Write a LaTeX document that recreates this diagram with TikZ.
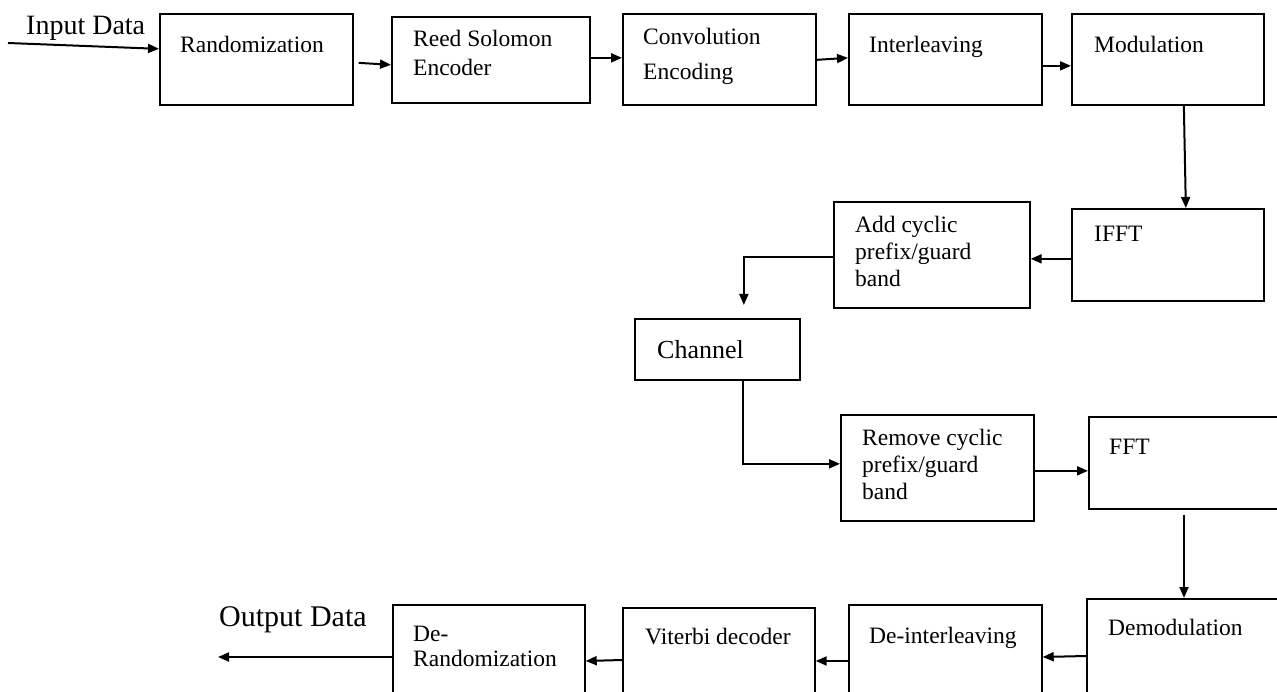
\documentclass[tikz,border=0pt]{standalone}
\usepackage{fontspec}
\setmainfont{Liberation Serif}
\usetikzlibrary{arrows.meta}
\tikzset{
  blk/.style={draw, line width=1.7pt, anchor=north west, inner sep=0},
  txt/.style={anchor=north west, inner sep=0, align=left, font=\fontsize{23.5}{27}\selectfont},
  arr/.style={line width=2pt, -{Triangle[length=11pt,width=9pt]}}
}
\begin{document}
\begin{tikzpicture}[x=1pt, y=-1pt]
	\useasboundingbox (0,0) rectangle (1277,692);
	\fill[white] (0,0) rectangle (1277,692);
	\clip (0,0) rectangle (1277,692);
	% blocks: name/x/y/width/height
	\foreach \n/\x/\y/\w/\h in {rand/159/13/193/91, reed/391/16/198/86, conv/622/13/193/91, inter/848/13/193/91,
		modu/1071/13/192/91, ifft/1071/208/192/92, addcp/833/201/196/106, chan/634/318/165/61,
		remcp/840/414/193/106, fft/1088/416/202/92, demod/1086/598/204/107, deint/848/604/193/101,
		vit/622/607/192/98, derand/392/604/192/101}
		\node[blk, minimum width=\w pt, minimum height=\h pt] (\n) at (\x,\y) {};
	% texts
	\node[txt] (rand-t) at ([shift={(21,23)}]rand.north west) {Randomization};
	\node[txt] (reed-t) at ([shift={(22,14)}]reed.north west) {Reed Solomon\\[2pt]Encoder};
	\node[txt] (conv-t) at ([shift={(21,15)}]conv.north west) {Convolution\\[8pt]Encoding};
	\node[txt] (inter-t) at ([shift={(21,23)}]inter.north west) {Interleaving};
	\node[txt] (modu-t) at ([shift={(23,23)}]modu.north west) {Modulation};
	\node[txt] (ifft-t) at ([shift={(23,18)}]ifft.north west) {IFFT};
	\node[txt] (addcp-t) at ([shift={(22,15)}]addcp.north west) {Add cyclic\\prefix/guard\\band};
	\node[txt, font=\fontsize{26}{30}\selectfont] (chan-t) at ([shift={(23,22)}]chan.north west) {Channel};
	\node[txt] (remcp-t) at ([shift={(22,15)}]remcp.north west) {Remove cyclic\\prefix/guard\\band};
	\node[txt] (fft-t) at ([shift={(21,23)}]fft.north west) {FFT};
	\node[txt] (demod-t) at ([shift={(22,21)}]demod.north west) {Demodulation};
	\node[txt] (deint-t) at ([shift={(21,23)}]deint.north west) {De-interleaving};
	\node[txt] (vit-t) at ([shift={(23,21)}]vit.north west) {Viterbi decoder};
	\node[txt] (derand-t) at ([shift={(21,22)}]derand.north west) {De-\\[-2pt]Randomization};
	\node[anchor=base west, inner sep=0, font=\fontsize{28}{32}\selectfont] (inlbl) at (26,35) {Input Data};
	\node[anchor=base west, inner sep=0, font=\fontsize{30}{34}\selectfont] (outlbl) at (219,626) {Output Data};
	% connectors
	\coordinate (in) at (8,43);
	\coordinate (out) at (218,657);
	\draw[arr] (in) -- ([yshift=10.5pt]rand.west);
	\draw[arr] ([xshift=5pt,yshift=-3.5pt]rand.east) -- ([yshift=-5pt]reed.west);
	\draw[arr] ([yshift=2pt]reed.east) -- ([yshift=1.5pt]conv.west);
	\draw[arr] ([yshift=-0.5pt]conv.east) -- ([yshift=1.5pt]inter.west);
	\draw[arr] ([yshift=-6.5pt]inter.east) -- ([yshift=-6.5pt]modu.west);
	\draw[arr] ([xshift=16pt]modu.south) -- ([xshift=18pt]ifft.north);
	\draw[arr] ([yshift=-4pt]ifft.west) -- ([yshift=-4pt]addcp.east);
	\draw[arr, shorten >=13pt] ([yshift=-2pt]addcp.west) -| ([xshift=26.5pt]chan.north);
	\draw[arr] ([xshift=25.5pt]chan.south) |- ([yshift=4pt]remcp.west);
	\draw[arr] ([yshift=-3pt]remcp.east) -- ([yshift=-8pt]fft.west);
	\draw[arr, shorten <=5pt] ([xshift=96pt]fft.south west) -- ([xshift=98pt]demod.north west);
	\draw[arr] ([yshift=-58pt]demod.north west) -- ([yshift=-53pt]deint.north east);
	\draw[arr] ([yshift=-57pt]deint.north west) -- ([yshift=-54pt]vit.north east);
	\draw[arr] ([yshift=-53pt]vit.north west) -- ([yshift=-57pt]derand.north east);
	\draw[arr] ([yshift=-53pt]derand.north west) -- (out);
\end{tikzpicture}
\end{document}
